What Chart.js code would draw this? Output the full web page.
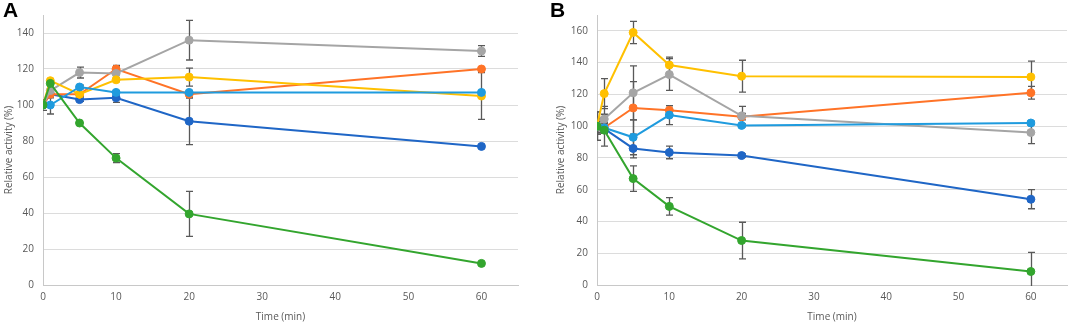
<!DOCTYPE html>
<html>
<head>
<meta charset="utf-8">
<script src="https://cdn.jsdelivr.net/npm/chart.js@4.4.1/dist/chart.umd.min.js"></script>
<style>
body { margin:0; background:#fff; width:1072px; height:325px; overflow:hidden; position:relative; font-family:"Liberation Sans", Arial, sans-serif; }
.panel { position:absolute; top:0; }
.tag { position:absolute; top:-2px; font-weight:bold; font-size:21px; color:#000; }
</style>
</head>
<body>
<div class="panel" style="left:0"><canvas id="chartA" width="536" height="325"></canvas></div>
<div class="panel" style="left:536px"><canvas id="chartB" width="536" height="325"></canvas></div>
<div class="tag" style="left:3px">A</div>
<div class="tag" style="left:550px">B</div>
<script>
// time points (min)
const times = [0, 1, 5, 10, 20, 60]

// panel A
const aDarkBlue  = [100, 106, 103, 104, 91, 77]
const aOrange    = [100, 106, 106, 120, 106, 120]
const aGray      = [100, 108, 118, 117.5, 136, 130]
const aYellow    = [100, 113.5, 106, 114, 115.5, 105]
const aLightBlue = [100, 100, 110, 107, 107, 107]
const aGreen     = [100, 112, 90, 70.5, 39.5, 12]

const aDarkBlueErr  = [0, 2, 1, 2.5, 13, 1]
const aOrangeErr    = [0, 1, 1, 2, 2, 1]
const aGrayErr      = [0, 1, 3, 4, 11, 3]
const aYellowErr    = [3, 1, 1, 1, 5, 13]
const aLightBlueErr = [0, 5, 1, 1, 1, 1]
const aGreenErr     = [0, 1, 0, 2.5, 12.5, 0]

// panel B
const bDarkBlue  = [100, 98.5, 86, 83.5, 81.5, 54]
const bOrange    = [100, 99, 111.5, 110, 106, 121]
const bGray      = [100, 104.5, 121, 132.5, 106.5, 96]
const bYellow    = [100, 120.5, 159, 138.5, 131.5, 131]
const bLightBlue = [100, 99, 93, 107, 100.5, 102]
const bGreen     = [100, 97.5, 67, 49.5, 28, 8.5]

const bDarkBlueErr  = [5, 3, 6, 4, 1, 6]
const bOrangeErr    = [9, 3, 16.5, 3, 2, 4]
const bGrayErr      = [5, 8, 17, 10, 6, 7]
const bYellowErr    = [9, 9.5, 7, 5, 10, 10]
const bLightBlueErr = [4, 3, 11, 6, 1, 1]
const bGreenErr     = [3, 10, 8, 5.5, 11.5, 12]

const colors = ['#1F66C6', '#FF7327', '#A5A5A5', '#FFC000', '#1F9BDE', '#33A52E']

// error bars go under the lines and markers
const errorBars = {
  id: 'errorBars',
  beforeDatasetsDraw(chart) {
    const { ctx, chartArea, scales: { x, y } } = chart
    ctx.save()
    ctx.beginPath()
    ctx.rect(chartArea.left, chartArea.top, chartArea.width, chartArea.height + 1)
    ctx.clip()
    ctx.strokeStyle = '#595959'
    ctx.lineWidth = 1.3
    chart.data.datasets.forEach(ds => {
      ds.data.forEach((p, i) => {
        const e = ds.errors[i]
        if (!e) return
        const px = Math.round(x.getPixelForValue(p.x)) + 0.5
        const top = y.getPixelForValue(p.y + e)
        const bot = y.getPixelForValue(p.y - e)
        ctx.beginPath()
        ctx.moveTo(px, top); ctx.lineTo(px, bot)
        ctx.moveTo(px - 3.5, top); ctx.lineTo(px + 3.5, top)
        ctx.moveTo(px - 3.5, bot); ctx.lineTo(px + 3.5, bot)
        ctx.stroke()
      })
    })
    ctx.restore()
  }
}

const makeSet = (vals, errs, i) => ({
  data: times.map((t, k) => ({ x: t, y: vals[k] })),
  errors: errs,
  borderColor: colors[i],
  backgroundColor: colors[i],
  pointRadius: 4,
  pointHoverRadius: 4,
  pointBorderWidth: 1,
  borderWidth: 2,
  tension: 0,
  order: 5 - i
})

const tickFont = { family: 'Open Sans', size: 10 }

function makeChart(id, sets, yMax, pad, yTitlePad) {
  return new Chart(document.getElementById(id).getContext('2d'), {
    type: 'line',
    data: { datasets: sets },
    options: {
      responsive: false,
      animation: false,
      devicePixelRatio: 1,
      layout: { padding: pad },
      plugins: { legend: { display: false }, tooltip: { enabled: false } },
      scales: {
        x: {
          type: 'linear',
          min: 0, max: 65,
          ticks: { stepSize: 10, includeBounds: false, color: '#595959', font: tickFont, padding: 6, maxRotation: 0 },
          grid: { display: false, drawTicks: false },
          border: { color: '#c8c8c8', width: 1 },
          title: { display: true, text: 'Time (min)', color: '#595959', font: tickFont, padding: { top: 0, bottom: 2 } },
          afterFit(s) { s.height = 40 }
        },
        y: {
          min: 0, max: yMax,
          ticks: { stepSize: 20, includeBounds: false, color: '#595959', font: tickFont, padding: 9 },
          grid: { color: '#dcdcdc', drawTicks: false },
          border: { color: '#c8c8c8', width: 1 },
          title: { display: true, text: 'Relative activity (%)', color: '#595959', font: tickFont, padding: { top: yTitlePad, bottom: 0 } },
          afterFit(s) { s.width = 43 }
        }
      }
    },
    plugins: [errorBars]
  })
}

const chartA = makeChart('chartA', [
  makeSet(aDarkBlue, aDarkBlueErr, 0),
  makeSet(aOrange, aOrangeErr, 1),
  makeSet(aGray, aGrayErr, 2),
  makeSet(aYellow, aYellowErr, 3),
  makeSet(aLightBlue, aLightBlueErr, 4),
  makeSet(aGreen, aGreenErr, 5)
], 150, { left: 0, right: 18, top: 10, bottom: 0 }, 3)

const chartB = makeChart('chartB', [
  makeSet(bDarkBlue, bDarkBlueErr, 0),
  makeSet(bOrange, bOrangeErr, 1),
  makeSet(bGray, bGrayErr, 2),
  makeSet(bYellow, bYellowErr, 3),
  makeSet(bLightBlue, bLightBlueErr, 4),
  makeSet(bGreen, bGreenErr, 5)
], 170, { left: 18, right: 1, top: 11, bottom: 0 }, 1)
</script>
</body>
</html>
